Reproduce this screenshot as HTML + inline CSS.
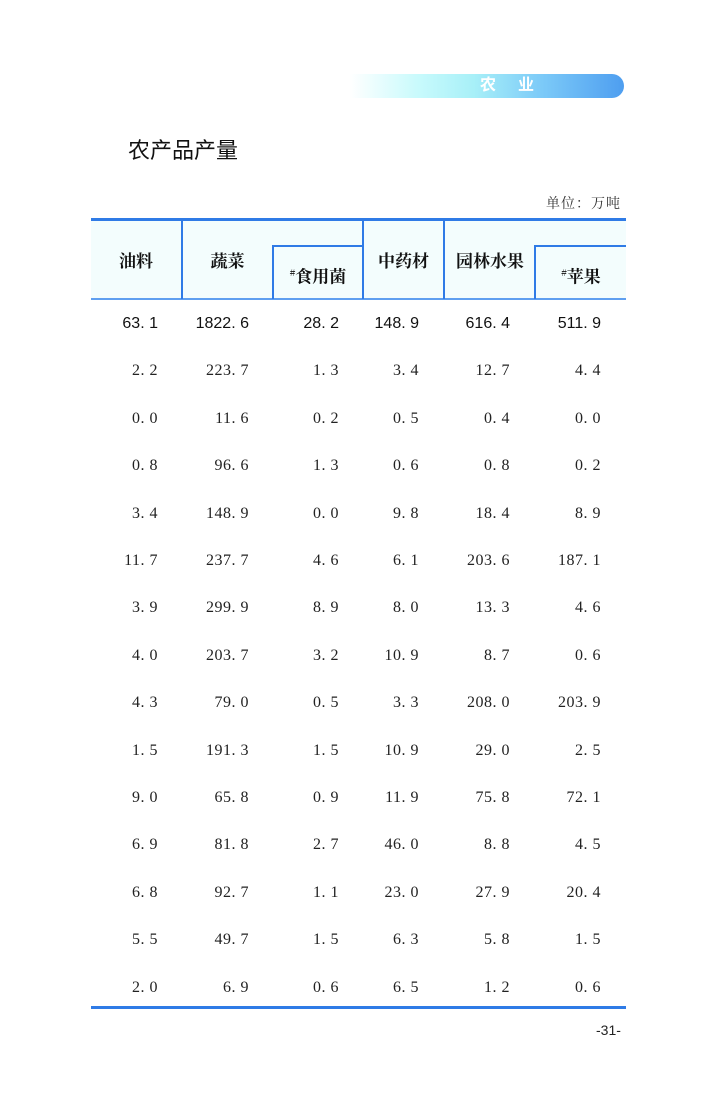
<!DOCTYPE html>
<html><head><meta charset="utf-8"><style>
body{margin:0;width:714px;height:1111px;background:#fff;position:relative;overflow:hidden;font-family:"Liberation Sans","Noto Sans CJK SC",sans-serif;}
.a{position:absolute;}
.banner{left:350px;top:74px;width:274px;height:24px;border-radius:0 12px 12px 0;background:linear-gradient(to right,#fff 0%,#c8fafc 25%,#a8f0f8 45%,#7ccaf8 70%,#4e9ef0 100%);}
.bt{left:480px;top:74px;line-height:24px;color:#fff;font-weight:bold;font-size:16px;letter-spacing:22px;}
.title{left:128px;top:138px;font-size:22px;line-height:26px;color:#111;}
.unit{right:93px;top:193px;font-size:14px;color:#333;font-family:"Noto Serif CJK SC",serif;letter-spacing:1px}
.hdr{left:91px;top:219px;width:535px;height:80px;background:#f3fdfd;}
.hl{background:#2f7be6;}
.h{font-size:17px;font-weight:bold;color:#111;line-height:20px;text-align:center;font-family:"Noto Serif CJK SC",serif;}
.n{font-family:"Liberation Serif","Noto Serif CJK SC",serif;font-size:16px;color:#222;text-align:right;width:80px;line-height:20px;letter-spacing:0.5px}
.b{font-family:"Liberation Sans",sans-serif;color:#111;letter-spacing:0}
</style></head><body>
<div class="a banner"></div>
<div class="a bt">农业</div>
<div class="a title">农产品产量</div>
<div class="a unit">单位：万吨</div>
<div class="a hdr"></div>
<div class="a hl" style="left:91px;top:218px;width:535px;height:3px"></div>
<div class="a hl" style="left:91px;top:298px;width:535px;height:2px;background:#5f9ff0"></div>
<div class="a hl" style="left:181px;top:220px;width:2px;height:79px"></div>
<div class="a hl" style="left:362px;top:220px;width:2px;height:79px"></div>
<div class="a hl" style="left:443px;top:220px;width:2px;height:79px"></div>
<div class="a hl" style="left:272px;top:245px;width:2px;height:54px"></div>
<div class="a hl" style="left:272px;top:245px;width:91px;height:2px"></div>
<div class="a hl" style="left:534px;top:245px;width:2px;height:54px"></div>
<div class="a hl" style="left:534px;top:245px;width:92px;height:2px"></div>
<div class="a hl" style="left:91px;top:1006px;width:535px;height:3px"></div>
<div class="a h" style="left:91px;width:90px;top:250px">油料</div>
<div class="a h" style="left:183px;width:89px;top:250px">蔬菜</div>
<div class="a h" style="left:274px;width:88px;top:263px"><sup style="font-size:9px">#</sup>食用菌</div>
<div class="a h" style="left:364px;width:79px;top:250px">中药材</div>
<div class="a h" style="left:445px;width:90px;top:250px">园林水果</div>
<div class="a h" style="left:536px;width:90px;top:263px"><sup style="font-size:9px">#</sup>苹果</div>
<div id="rows"></div>
<div class="a" style="left:596px;top:1022px;font-size:14px;color:#222">-31-</div>
<script>
var d=[["63.1","1822.6","28.2","148.9","616.4","511.9"],["2.2","223.7","1.3","3.4","12.7","4.4"],["0.0","11.6","0.2","0.5","0.4","0.0"],["0.8","96.6","1.3","0.6","0.8","0.2"],["3.4","148.9","0.0","9.8","18.4","8.9"],["11.7","237.7","4.6","6.1","203.6","187.1"],["3.9","299.9","8.9","8.0","13.3","4.6"],["4.0","203.7","3.2","10.9","8.7","0.6"],["4.3","79.0","0.5","3.3","208.0","203.9"],["1.5","191.3","1.5","10.9","29.0","2.5"],["9.0","65.8","0.9","11.9","75.8","72.1"],["6.9","81.8","2.7","46.0","8.8","4.5"],["6.8","92.7","1.1","23.0","27.9","20.4"],["5.5","49.7","1.5","6.3","5.8","1.5"],["2.0","6.9","0.6","6.5","1.2","0.6"]];
var r=[158,249,339,419,510,601],h="";
d.forEach(function(row,i){var y=314+i*47.4;row.forEach(function(v,j){
h+='<div class="a n'+(i==0?' b':'')+'" style="left:'+(r[j]-80)+'px;top:'+y+'px">'+v.replace('.','. ')+'</div>';});});
document.getElementById('rows').innerHTML=h;
</script>
</body></html>
